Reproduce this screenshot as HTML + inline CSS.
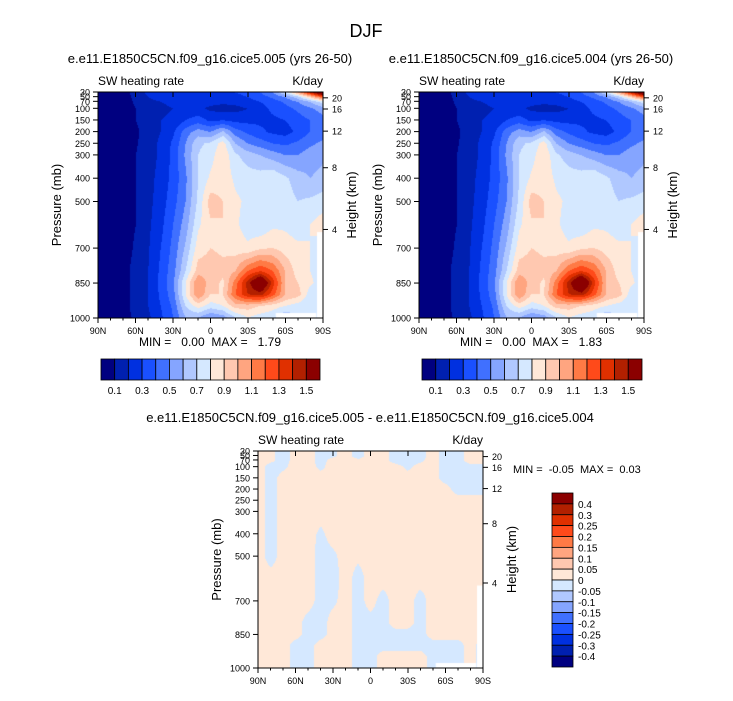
<!DOCTYPE html>
<html><head><meta charset="utf-8"><style>
body{margin:0;background:#fff;width:733px;height:701px;overflow:hidden;font-family:"Liberation Sans",sans-serif}
#root{position:relative;width:733px;height:701px}
canvas{position:absolute}
svg{position:absolute;left:0;top:0}
</style></head><body><div id="root">
<canvas id="c1" width="225" height="226" style="left:98px;top:92px"></canvas>
<canvas id="c2" width="225" height="226" style="left:419px;top:92px"></canvas>
<canvas id="c3" width="225" height="217" style="left:258px;top:451px"></canvas>
<svg id="s" width="733" height="701"></svg>
</div>
<script>
const lats=["90N","60N","30N","0","30S","60S","90S"];
const pLevels=[30,50,70,100,150,200,250,300,400,500,600,700,800,850,900,950,1000];
const pTicks=[30,50,70,100,150,200,250,300,400,500,700,850,1000];
const hTicks=[20,16,12,8,4];
const hTickP=[55,103,198,355,620];
const palette=["#000080","#0020b0","#0030e0","#1a50ff","#4070ff","#85a5ff","#b0c8ff","#d5e8ff","#ffe8d8","#ffc8b0","#ffa580","#ff7a45","#ff4a1a","#e03000","#b22000","#8b0000"];
const swLevels=[0.1,0.2,0.3,0.4,0.5,0.6,0.7,0.8,0.9,1.0,1.1,1.2,1.3,1.4,1.5];
const swLabels=["0.1","0.3","0.5","0.7","0.9","1.1","1.3","1.5"];
const diffLevels=[-0.4,-0.3,-0.25,-0.2,-0.15,-0.1,-0.05,0,0.05,0.1,0.15,0.2,0.25,0.3,0.4];
const diffLabels=["-0.4","-0.3","-0.25","-0.2","-0.15","-0.1","-0.05","0","0.05","0.1","0.15","0.2","0.25","0.3","0.4"];
const swA=[
[0,0,.05,.15,.22,.25,.27,.28,.28,.28,.28,.3,.33,.4,.5,.7,1.0,1.4,1.8],
[0,0,.05,.13,.2,.23,.25,.26,.26,.26,.26,.27,.3,.35,.42,.5,.65,.9,1.2],
[0,0,.04,.12,.18,.2,.22,.23,.23,.23,.22,.23,.26,.3,.35,.42,.5,.6,.75],
[0,0,.02,.1,.15,.18,.2,.22,.22,.18,.16,.17,.2,.26,.32,.36,.42,.48,.55],
[0,0,.02,.1,.15,.2,.22,.3,.35,.28,.3,.27,.27,.28,.28,.3,.35,.4,.45],
[0,0,.03,.08,.15,.2,.28,.45,.55,.5,.62,.45,.38,.32,.28,.26,.32,.4,.45],
[0,0,.04,.09,.15,.22,.32,.5,.68,.72,.85,.6,.5,.45,.4,.38,.42,.48,.52],
[0,0,.05,.1,.15,.22,.33,.52,.7,.76,.88,.72,.65,.6,.55,.5,.5,.55,.58],
[0,0,.06,.1,.16,.24,.33,.48,.7,.82,.86,.78,.75,.75,.79,.72,.65,.6,.63],
[0,0,.06,.1,.17,.25,.36,.5,.72,.95,.9,.82,.78,.76,.78,.75,.7,.72,.75],
[0,0,.07,.1,.18,.27,.4,.55,.78,.88,.9,.82,.75,.72,.78,.78,.75,.8,.85],
[0,0,.07,.11,.19,.3,.43,.62,.85,.9,.88,.85,.82,.88,.9,.85,.82,.8,.75],
[0,0,.08,.12,.2,.32,.46,.7,.95,.95,.93,1.0,1.2,1.3,1.2,1.0,.85,.8,.75],
[0,0,.08,.12,.2,.33,.48,.8,1.1,.95,.88,1.15,1.45,1.75,1.35,1.0,.9,.82,.75],
[0,0,.08,.12,.2,.32,.46,.8,1.1,.9,.9,1.2,1.4,1.45,1.25,1.0,.95,.75,.7],
[0,0,.08,.12,.2,.3,.42,.7,.85,.75,.8,.95,.95,.9,.85,.8,.75,.7,.7],
[0,0,.08,.11,.18,.28,.4,.6,.6,.5,.55,.7,.8,.75,.72,.6,.7,.7,.7]];
const swB=[
[0,0,.05,.15,.22,.25,.27,.28,.28,.28,.28,.3,.33,.4,.5,.7,1.0,1.4,1.8],
[0,0,.05,.13,.2,.23,.25,.26,.26,.26,.26,.27,.3,.35,.42,.5,.65,.9,1.2],
[0,0,.04,.12,.18,.2,.22,.23,.23,.23,.22,.23,.26,.3,.35,.42,.5,.6,.75],
[0,0,.02,.1,.15,.18,.2,.22,.22,.18,.16,.17,.2,.26,.32,.36,.42,.48,.55],
[0,0,.02,.1,.15,.2,.22,.3,.35,.28,.3,.27,.27,.28,.28,.3,.35,.4,.45],
[0,0,.03,.08,.15,.2,.28,.45,.55,.5,.62,.45,.38,.32,.28,.26,.32,.4,.45],
[0,0,.04,.09,.15,.22,.32,.5,.68,.72,.85,.6,.5,.45,.4,.38,.42,.48,.52],
[0,0,.05,.1,.15,.22,.33,.52,.7,.76,.88,.72,.65,.6,.55,.5,.5,.55,.58],
[0,0,.06,.1,.16,.24,.33,.48,.7,.82,.86,.78,.75,.75,.79,.72,.65,.6,.63],
[0,0,.06,.1,.17,.25,.36,.5,.72,.95,.9,.82,.78,.76,.78,.75,.7,.72,.75],
[0,0,.07,.1,.18,.27,.4,.55,.78,.88,.9,.82,.75,.72,.78,.78,.75,.8,.85],
[0,0,.07,.11,.19,.3,.43,.62,.85,.9,.88,.85,.82,.88,.9,.85,.82,.8,.75],
[0,0,.08,.12,.2,.32,.46,.7,.95,.95,.93,1.0,1.2,1.3,1.2,1.0,.85,.8,.75],
[0,0,.08,.12,.2,.33,.48,.8,1.1,.95,.88,1.15,1.45,1.8,1.35,1.0,.9,.82,.75],
[0,0,.08,.12,.2,.32,.46,.8,1.1,.9,.9,1.2,1.4,1.45,1.25,1.0,.95,.75,.7],
[0,0,.08,.12,.2,.3,.42,.7,.85,.75,.8,.95,.95,.9,.85,.8,.75,.7,.7],
[0,0,.08,.11,.18,.28,.4,.6,.6,.5,.55,.7,.8,.75,.72,.6,.7,.7,.7]];
const diffD=[
[.02,.01,-.02,.02,.02,-.02,-.01,.02,-.02,.02,.02,-.02,-.02,-.02,.02,-.02,-.02,.02,.02],
[.02,.01,-.02,.02,.02,-.02,-.01,.02,-.02,.02,.02,-.02,-.02,-.02,.02,-.02,-.02,.02,.02],
[.02,.01,-.02,.02,.02,-.02,.02,.02,.01,.02,.02,-.02,-.02,-.01,.02,-.02,-.02,.02,.02],
[.02,-.02,-.01,.02,.02,-.01,.02,.02,.02,.02,.02,.02,-.01,.02,.02,-.02,-.02,-.02,-.02],
[.02,-.02,.02,.02,.02,.02,.02,.02,.02,.02,.02,.02,.02,.02,.02,-.02,-.02,-.02,-.02],
[.02,-.02,.02,.02,.02,.02,.02,.02,.02,.02,.02,.02,.02,.02,.02,.02,-.02,-.02,-.02],
[.02,-.02,.02,.02,.02,.02,.02,.02,.02,.02,.02,.02,.02,.02,.02,.02,.02,.02,.02],
[.02,-.02,.02,.02,.02,.02,.02,.02,.02,.02,.02,.02,.02,.02,.02,.02,.02,.02,.02],
[.02,-.02,.02,.02,.02,-.01,.02,.02,.02,.02,.02,.02,.02,.02,.02,.02,.02,.02,.02],
[.02,-.02,.02,.02,.02,-.02,-.01,.02,.01,.02,.02,.02,.02,.02,.02,.02,.02,.02,.02],
[.02,.02,.02,.02,.02,-.02,-.02,.02,-.02,.02,.02,.02,.02,.02,.02,.02,.02,.02,.02],
[.02,.02,.02,.02,.02,-.02,-.01,.02,-.02,.02,-.02,.02,.02,-.02,.02,.02,.02,.02,-.01],
[.02,.02,.02,.02,-.02,-.02,.02,.02,-.02,-.02,-.02,.02,.02,-.02,.02,.02,.02,.02,-.01],
[.02,.02,.02,.02,-.02,-.02,.02,.02,-.02,-.02,-.02,-.02,-.02,-.02,.02,.02,.02,.02,-.01],
[.02,.02,.02,-.02,-.02,.02,.02,.02,-.02,-.02,-.02,-.02,-.02,-.02,-.02,-.02,-.02,.02,-.02],
[.02,.02,.02,-.02,-.02,.02,.02,.02,-.02,-.02,.02,.02,.02,.02,-.02,-.02,-.02,.02,-.02],
[.02,.02,.02,-.02,-.02,.02,.02,.02,-.02,-.02,.02,.02,.02,.02,-.02,-.02,-.02,.02,-.02]];

function hex(c){return [parseInt(c.substr(1,2),16),parseInt(c.substr(3,2),16),parseInt(c.substr(5,2),16)];}
const rgb=palette.map(hex);
function bin(v,lv){let i=0;while(i<lv.length&&v>=lv[i])i++;return i;}
function sample(g,fx,p){
  let r=0;while(r<pLevels.length-2&&p>pLevels[r+1])r++;
  const t=Math.min(1,Math.max(0,(p-pLevels[r])/(pLevels[r+1]-pLevels[r])));
  const c=Math.min(17,Math.floor(fx)),u=fx-c;
  const a=g[r][c]*(1-u)+g[r][c+1]*u,b=g[r+1][c]*(1-u)+g[r+1][c+1]*u;
  return a*(1-t)+b*t;
}
function draw(id,g,lv){
  const cv=document.getElementById(id),ctx=cv.getContext('2d'),W=cv.width,H=cv.height;
  const im=ctx.createImageData(W,H);
  for(let y=0;y<H;y++)for(let x=0;x<W;x++){
    const fx=x/(W-1)*18,p=30+y/(H-1)*970;
    const k=bin(sample(g,fx,p),lv),c=rgb[k],o=(y*W+x)*4;
    im.data[o]=c[0];im.data[o+1]=c[1];im.data[o+2]=c[2];im.data[o+3]=255;
  }
  ctx.putImageData(im,0,0);
  ctx.fillStyle='#fff';ctx.fillRect(W*0.79,H-5,W*0.18,5);ctx.fillRect(W-6,H*0.62,6,H*0.38);
}
draw('c1',swA,swLevels);draw('c2',swB,swLevels);draw('c3',diffD,diffLevels);

const s=document.getElementById('s');const NS='http://www.w3.org/2000/svg';
function el(t,a,txt){const e=document.createElementNS(NS,t);for(const k in a)e.setAttribute(k,a[k]);if(txt!==undefined)e.textContent=txt;s.appendChild(e);return e;}
function text(x,y,str,size,anchor,name,rot){const a={x:x,y:y,'font-size':size,'text-anchor':anchor||'start',fill:'#000','font-family':'Liberation Sans, sans-serif',style:'white-space:pre'};if(rot)a.transform='rotate(-90 '+x+' '+y+')';const e=el('text',a,str);return e;}
function panel(x0,y0,w,h,tag){
  const yP=p=>y0+(p-30)/970*h;
  const f=el('rect',{x:x0,y:y0,width:w,height:h,fill:'none',stroke:'#000','stroke-width':1});
  
  lats.forEach((l,i)=>{const x=x0+i*w/6;
    el('line',{x1:x,y1:y0+h,x2:x,y2:y0+h+5,stroke:'#000'});
    el('line',{x1:x,y1:y0,x2:x,y2:y0+5,stroke:'#000'});
    text(x,y0+h+16,l,9,'middle',tag+'-x-tick-label');});
  for(let i=0;i<=18;i++){const x=x0+i*w/18;el('line',{x1:x,y1:y0+h,x2:x,y2:y0+h+2.5,stroke:'#000'});}
  pTicks.forEach(p=>{const y=yP(p);el('line',{x1:x0-5,y1:y,x2:x0,y2:y,stroke:'#000'});
    text(x0-8,y+3.5,String(p),9,'end',tag+'-y-tick-label');});
  hTicks.forEach((hk,i)=>{const y=yP(hTickP[i]);el('line',{x1:x0+w,y1:y,x2:x0+w+5,y2:y,stroke:'#000'});
    text(x0+w+9,y+3.5,String(hk),9,'start',tag+'-height-tick-label');});
  text(x0-37,y0+h/2,'Pressure (mb)',13,'middle',tag+'-y-axis-title',true);
  text(x0+w+33,y0+h/2,'Height (km)',13,'middle',tag+'-height-axis-title',true);
  text(x0,y0-7,'SW heating rate',12,'start',tag+'-variable-label');
  text(x0+w,y0-7,'K/day',12,'end',tag+'-units-label');
}
panel(98,92,225,226,'p1');panel(419,92,225,226,'p2');panel(258,451,225,217,'p3');
text(366,37,'DJF',18,'middle','figure-title');
text(210,63,'e.e11.E1850C5CN.f09_g16.cice5.005 (yrs 26-50)',13,'middle','panel1-title');
text(531,63,'e.e11.E1850C5CN.f09_g16.cice5.004 (yrs 26-50)',13,'middle','panel2-title');
text(370,422,'e.e11.E1850C5CN.f09_g16.cice5.005 - e.e11.E1850C5CN.f09_g16.cice5.004',13,'middle','diff-title');
text(210,346,'MIN =   0.00  MAX =   1.79',12,'middle','panel1-minmax');
text(531,346,'MIN =   0.00  MAX =   1.83',12,'middle','panel2-minmax');
text(513,473,'MIN =  -0.05  MAX =  0.03',11,'start','diff-minmax');
function hbar(x0,y0,w,h,tag){const bw=w/16;
  palette.forEach((c,i)=>{const r=el('rect',{x:x0+i*bw,y:y0,width:bw,height:h,fill:c,stroke:'#000','stroke-width':0.8});
    });
  swLabels.forEach((l,i)=>text(x0+(1+2*i)*bw,y0+h+14,l,10,'middle',tag+'-colorbar-label'));}
hbar(101,359,219,21,'p1');hbar(422,359,220,21,'p2');
(function(){const x0=552,y0=493,w=21,h=174,bh=h/16;
  palette.slice().reverse().forEach((c,i)=>{const r=el('rect',{x:x0,y:y0+i*bh,width:w,height:bh,fill:c,stroke:'#000','stroke-width':0.8});
    });
  diffLabels.slice().reverse().forEach((l,i)=>text(x0+w+5,y0+(i+1)*bh+4,l,10,'start','diff-colorbar-label'));})();
</script></body></html>
